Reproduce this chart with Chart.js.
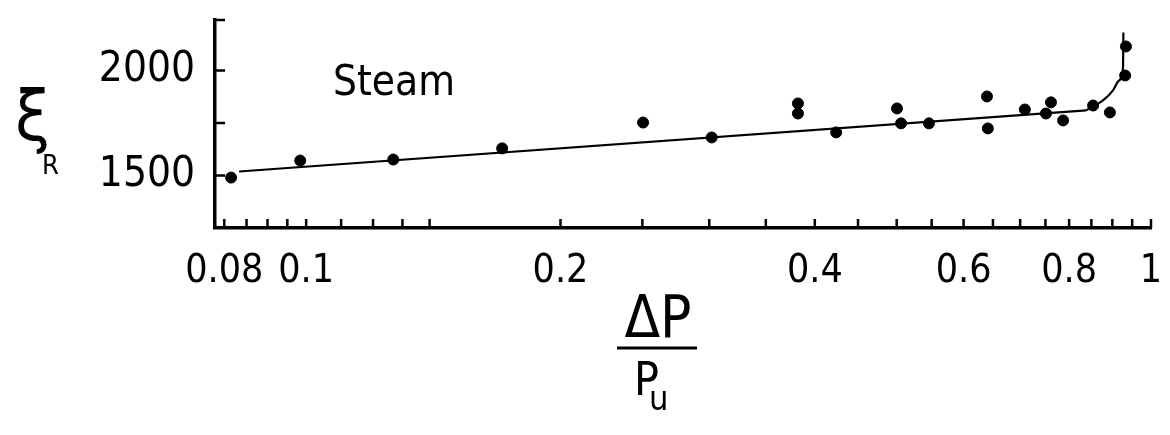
<!DOCTYPE html>
<html>
<head>
<meta charset="utf-8">
<script src="https://cdn.jsdelivr.net/npm/chart.js@4"></script>
<style>
  body { margin: 0; background: #fff; }
  #wrap { width: 1170px; height: 435px; position: relative; }
</style>
</head>
<body>
<div id="wrap"><canvas id="chart"></canvas></div>
<script>
// measured points (dP/Pu, xi_R)
const pointX = [0.0815, 0.0984, 0.1268, 0.1706, 0.2505, 0.302, 0.382, 0.382, 0.424, 0.5004, 0.506,
	0.546, 0.6395, 0.641, 0.709, 0.7614, 0.751, 0.787, 0.854, 0.894, 0.934, 0.932];
const pointY = [1490, 1571, 1576, 1629, 1752, 1681, 1843, 1795, 1705, 1819, 1748,
	1748, 1876, 1724, 1814, 1848, 1795, 1762, 1833, 1800, 2114, 1976];

// fitted line, straight part and the knee near 1
const fitX = [0.0833, 0.838];
const fitY = [1519, 1810];
const kneeX = [0.838, 0.8773, 0.9016, 0.9166, 0.9266, 0.9275];
const kneeY = [1810, 1857, 1905, 1952, 2014, 2181];

const xTickValues = [0.08, 0.1, 0.2, 0.4, 0.6, 0.8, 1];
const xTickLabels = ["0.08", "0.1", "0.2", "0.4", "0.6", "0.8", "1"];
const xMinorTicks = [0.08, 0.085, 0.09, 0.095, 0.1, 0.11, 0.12, 0.13, 0.14, 0.2, 0.25, 0.3, 0.35,
	0.4, 0.45, 0.5, 0.55, 0.6, 0.65, 0.7, 0.75, 0.8, 0.85, 0.9, 0.95, 1];
const yTickValues = [1500, 2000];
const yTickLabels = ["1500", "2000"];
const yMinorTicks = [1500, 1750, 2000, 2240];

const FONT = '"Liberation Sans Narrow", "DejaVu Sans Condensed", sans-serif';
Chart.defaults.font.family = FONT;
Chart.defaults.color = "#000";

const toXY = (xs, ys) => xs.map((x, i) => ({ x: x, y: ys[i] }));

const extras = {
	id: "extras",
	afterDraw(chart) {
		const { ctx, chartArea, scales } = chart;
		ctx.save();
		ctx.strokeStyle = "#000";
		ctx.lineWidth = 2.5;
		ctx.beginPath();
		xMinorTicks.forEach((v) => {
			const px = scales.x.getPixelForValue(v);
			ctx.moveTo(px, chartArea.bottom);
			ctx.lineTo(px, chartArea.bottom - 9);
		});
		yMinorTicks.forEach((v) => {
			const py = scales.y.getPixelForValue(v);
			ctx.moveTo(chartArea.left, py);
			ctx.lineTo(chartArea.left + 10, py);
		});
		ctx.stroke();

		ctx.fillStyle = "#000";
		ctx.textBaseline = "alphabetic";
		ctx.textAlign = "left";
		ctx.font = "42px " + FONT;
		ctx.fillText("Steam", 333, 95);

		// y title
		ctx.font = "70px " + FONT;
		ctx.fillText("ξ", 15, 140);
		ctx.font = "27px " + FONT;
		ctx.fillText("R", 42, 174);

		// x title as a fraction
		ctx.textAlign = "center";
		ctx.font = "58px " + FONT;
		ctx.fillText("ΔP", 658, 337);
		ctx.lineWidth = 3;
		ctx.beginPath();
		ctx.moveTo(617, 348);
		ctx.lineTo(697, 348);
		ctx.stroke();
		ctx.textAlign = "left";
		ctx.font = "46px " + FONT;
		ctx.fillText("P", 634, 395);
		ctx.font = "34px " + FONT;
		ctx.fillText("u", 649, 410);
		ctx.restore();
	},
};

const data = {
	datasets: [
		{
			label: "Steam",
			data: toXY(pointX, pointY),
			backgroundColor: "#000",
			borderColor: "#000",
			pointRadius: 5.5,
			showLine: false,
		},
		{
			label: "fit",
			data: toXY(fitX, fitY),
			borderColor: "#000",
			borderWidth: 2.2,
			pointRadius: 0,
			showLine: true,
		},
		{
			label: "knee",
			data: toXY(kneeX, kneeY),
			borderColor: "#000",
			borderWidth: 2.2,
			pointRadius: 0,
			showLine: true,
			cubicInterpolationMode: "monotone",
		},
	],
};

const options = {
	responsive: true,
	maintainAspectRatio: false,
	animation: false,
	layout: { padding: { left: 0, right: 19, top: 20, bottom: 0 } },
	plugins: { legend: { display: false }, tooltip: { enabled: false } },
	scales: {
		x: {
			type: "logarithmic",
			min: 0.078,
			max: 1,
			grid: { display: false, drawTicks: false },
			border: { display: true, color: "#000", width: 3.5 },
			afterBuildTicks: (scale) => {
				scale.ticks = xTickValues.map((v) => ({ value: v }));
			},
			afterFit: (scale) => {
				scale.height = 207;
				scale.paddingLeft = 0;
				scale.paddingRight = 0;
			},
			ticks: {
				autoSkip: false,
				maxRotation: 0,
				padding: 20,
				font: { size: 39 },
				callback: (value) => xTickLabels[xTickValues.indexOf(value)],
			},
		},
		y: {
			min: 1250,
			max: 2240,
			grid: { display: false, drawTicks: false },
			border: { display: true, color: "#000", width: 3.5 },
			afterBuildTicks: (scale) => {
				scale.ticks = yTickValues.map((v) => ({ value: v }));
			},
			afterFit: (scale) => {
				scale.width = 215;
				scale.paddingTop = 0;
				scale.paddingBottom = 0;
			},
			ticks: {
				padding: 20,
				font: { size: 42 },
				callback: (value) => yTickLabels[yTickValues.indexOf(value)],
			},
		},
	},
};

new Chart(document.getElementById("chart"), {
	type: "scatter",
	data: data,
	options: options,
	plugins: [extras],
});
</script>
</body>
</html>
